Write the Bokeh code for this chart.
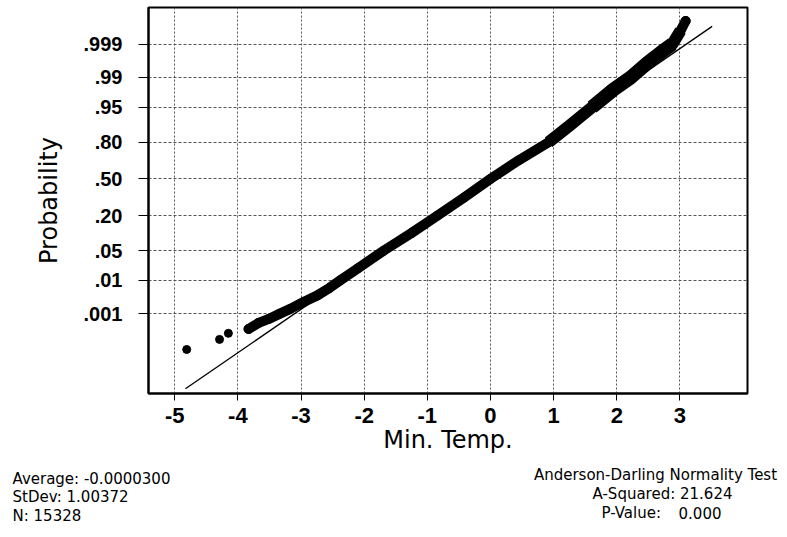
from statistics import NormalDist
from bokeh.plotting import figure
from bokeh.layouts import column
from bokeh.models import Range1d, FixedTicker, CustomJSTickFormatter
from bokeh.core.properties import value
from bokeh.embed import file_html
from bokeh.resources import INLINE

# ---------------- data ----------------
prob_ticks = [0.001, 0.01, 0.05, 0.20, 0.50, 0.80, 0.95, 0.99, 0.999]
prob_labels = [".001", ".01", ".05", ".20", ".50", ".80", ".95", ".99", ".999"]
temp_ticks = [-5, -4, -3, -2, -1, 0, 1, 2, 3]

# isolated points of the lower tail (Min. Temp., cumulative probability)
tail_temp = [-4.81, -4.29, -4.15]
tail_prob = [4.6e-5, 1.17e-4, 2.0e-4]

# dense body of the probability plot (Min. Temp., cumulative probability)
body_temp = [-3.83, -3.67, -3.51, -3.35, -3.17, -2.96, -2.74, -2.55, -2.38,
             -2.10, -1.69, -1.25, -0.84, -0.42, 0.0, 0.45, 0.92, 1.25, 1.61,
             1.95, 2.22, 2.48, 2.70, 2.88, 3.01, 3.09]
body_prob = [2.91e-4, 4.83e-4, 6.64e-4, 9.68e-4, 1.44e-3, 2.40e-3, 3.79e-3,
             6.21e-3, 0.0100, 0.0202, 0.050, 0.1075, 0.200, 0.3336, 0.500,
             0.6664, 0.800, 0.8888, 0.950, 0.9798, 0.990, 0.99598, 0.99813,
             0.999, 0.999663, 0.999853]

# fitted normal line (ends on the temperature axis) and summary statistics
fit_temp = [-4.83, 3.51]
mean_temp = -0.0000300
sd_temp = 1.00372
n_obs = 15328
a_squared = 21.624
p_value = 0.000

# ---------------- probability scale (normal scores) ----------------
nd = NormalDist()
z_ticks = [nd.inv_cdf(q) for q in prob_ticks]
tail_z = [nd.inv_cdf(q) for q in tail_prob]
body_z = [nd.inv_cdf(q) for q in body_prob]
fit_z = [(t - mean_temp) / sd_temp for t in fit_temp]

p = figure(width=787, height=465, output_backend="svg", toolbar_location=None,
           x_range=Range1d(-5.415, 4.07), y_range=Range1d(-4.92, 3.93),
           min_border_left=148, min_border_right=40, min_border_top=7,
           min_border_bottom=72, background_fill_color="white",
           border_fill_color="white")
p.frame_align = False

p.outline_line_color = "black"
p.outline_line_width = 2

# axes
p.xaxis.ticker = FixedTicker(ticks=temp_ticks)
p.xaxis.formatter = CustomJSTickFormatter(code="return tick.toFixed(0);")
p.yaxis.ticker = FixedTicker(ticks=z_ticks)
p.yaxis.formatter = CustomJSTickFormatter(
    args=dict(zpos=z_ticks, plab=prob_labels),
    code="""
    let best = 0, d = 1e9;
    for (let i = 0; i < zpos.length; i++) {
        const e = Math.abs(zpos[i] - tick);
        if (e < d) { d = e; best = i; }
    }
    return plab[best];
    """)

for ax in (p.xaxis[0], p.yaxis[0]):
    ax.axis_line_color = "black"
    ax.axis_line_width = 2
    ax.major_tick_line_color = "black"
    ax.major_tick_line_width = 1
    ax.major_tick_in = 0
    ax.minor_tick_line_color = None
    ax.major_label_text_font = "Liberation Sans"
    ax.major_label_text_font_style = "bold"
    ax.major_label_text_color = "black"
    ax.axis_label_text_font = "DejaVu Sans"
    ax.axis_label_text_font_style = "normal"
    ax.axis_label_text_color = "black"
    ax.axis_label_text_font_size = "24px"

p.xaxis.axis_label = "Min. Temp."
p.xaxis.major_label_text_font_size = "22px"
p.xaxis.major_tick_out = 7
p.xaxis.major_label_standoff = 7
p.xaxis.axis_label_standoff = 0

p.yaxis.axis_label = "Probability"
p.yaxis.major_label_text_font_size = "20px"
p.yaxis.major_tick_out = 10
p.yaxis.major_label_standoff = 16
p.yaxis.axis_label_standoff = 18

# grid
p.xgrid.grid_line_color = "#555555"
p.xgrid.grid_line_dash = "2 2"
p.xgrid.grid_line_width = 1
p.ygrid.grid_line_color = "#555555"
p.ygrid.grid_line_dash = "3 2"
p.ygrid.grid_line_width = 1

# fitted line
p.line(fit_temp, fit_z, line_color="black", line_width=1.3)

# dense band of points (it widens where many tied values stack up)
p.line(body_temp, body_z, line_color="black", line_width=10,
       line_join="round", line_cap="round")
mid = [i for i, t in enumerate(body_temp) if 0.92 <= t <= 3.01]
p.line([body_temp[i] for i in mid], [body_z[i] for i in mid],
       line_color="black", line_width=12, line_join="round", line_cap="butt")
upper = [i for i, t in enumerate(body_temp) if 1.61 <= t <= 2.88]
p.line([body_temp[i] for i in upper], [body_z[i] for i in upper],
       line_color="black", line_width=14, line_join="round", line_cap="butt")
p.scatter(body_temp, body_z, size=9, color="black")
p.scatter(tail_temp, tail_z, size=8, color="black")

# ---------------- summary text panel under the plot ----------------
t = figure(width=787, height=72, output_backend="svg", toolbar_location=None,
           x_range=Range1d(0, 787), y_range=Range1d(72, 0),
           x_axis_type=None, y_axis_type=None, min_border=0,
           min_border_left=0, min_border_right=0, min_border_top=0,
           min_border_bottom=0,
           background_fill_color="white", border_fill_color="white")
t.frame_align = False
t.outline_line_color = None
t.xgrid.visible = False
t.ygrid.visible = False

def add_text(x, y, text, align="left"):
    t.text(x=[x], y=[y], text=[text], text_font=value("DejaVu Sans"),
           text_font_size="15px", text_color="black", text_align=align,
           text_baseline="middle")

add_text(12, 478.7 - 465, f"Average: {mean_temp:.7f}")
add_text(12, 496.7 - 465, f"StDev: {sd_temp:.5f}")
add_text(12, 515.0 - 465, f"N: {n_obs}")

add_text(655, 474.3 - 465, "Anderson-Darling Normality Test", "center")
add_text(662, 493.3 - 465, f"A-Squared: {a_squared:.3f}", "center")
add_text(601, 512.5 - 465, "P-Value:")
add_text(721, 512.5 - 465, f"{p_value:.3f}", "right")

layout = column(p, t, spacing=0)
open("out.html", "w").write(file_html(layout, INLINE))
